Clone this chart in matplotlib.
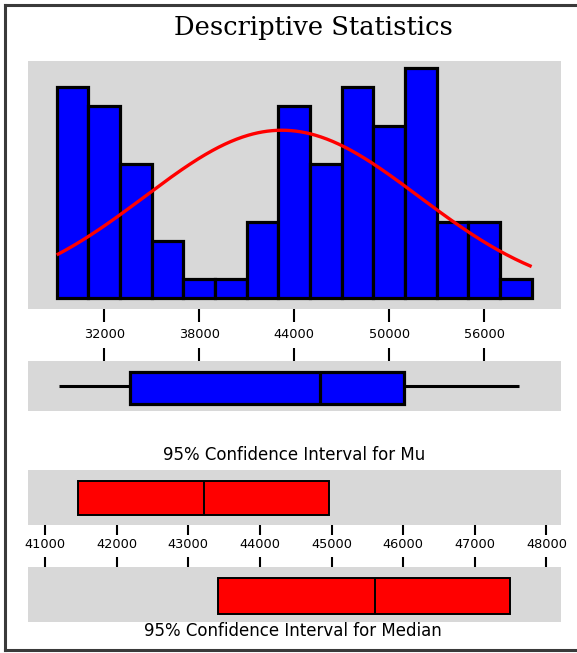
import numpy as np
import matplotlib
matplotlib.use("Agg")
import matplotlib.pyplot as plt
from matplotlib.lines import Line2D

# ---------------- data ----------------
bin_start = 29000
bin_width = 2000
counts = [11, 10, 7, 3, 1, 1, 4, 10, 7, 11, 9, 12, 4, 4, 1]
hist_ticks = [32000, 38000, 44000, 50000, 56000]

mean = 43223
std = 8650

box_min = 29130
box_q1 = 33630
box_median = 45610
box_q3 = 50910
box_max = 58200

mu_ci = [41458, 44970]
median_ci = [43419, 47494]
ci_ticks = [41000, 42000, 43000, 44000, 45000, 46000, 47000, 48000]

# ---------------- layout ----------------
W, H = 577, 653
fig = plt.figure(figsize=(W / 100, H / 100), dpi=100)
fig.patch.set_facecolor("white")
GRAY = "#d8d8d8"
PT = 0.72  # points per pixel at 100 dpi


def rect(x0, x1, y0, y1):
    return [x0 / W, 1 - y1 / H, (x1 - x0) / W, (y1 - y0) / H]


def clean(ax):
    ax.set_facecolor(GRAY)
    for s in ax.spines.values():
        s.set_visible(False)
    ax.set_yticks([])


# outer frame
fig.add_artist(Line2D([5 / W, 5 / W], [1 - 5 / H, 1 - 650 / H], color="#3a3a3a", lw=2.2, transform=fig.transFigure))
fig.add_artist(Line2D([5 / W, 1.0], [1 - 5 / H, 1 - 5 / H], color="#3a3a3a", lw=2.2, transform=fig.transFigure))
fig.add_artist(Line2D([5 / W, 1.0], [1 - 650 / H, 1 - 650 / H], color="#3a3a3a", lw=2.2, transform=fig.transFigure))

fig.text(313 / W, 1 - 27 / H, "Descriptive Statistics", ha="center", va="center",
         family="DejaVu Serif", fontsize=18.5)

# ---------------- histogram ----------------
edges = bin_start + bin_width * np.arange(len(counts) + 1)
xlim_hist = (27206, 60857)

ax1 = fig.add_axes(rect(28.3, 561, 61, 309))
clean(ax1)
ax1.bar(edges[:-1], counts, width=bin_width, align="edge", color="#0000ff",
        edgecolor="black", linewidth=2.3)
xs = np.linspace(edges[0], edges[-1], 400)
n = sum(counts)
ys = n * bin_width / (std * np.sqrt(2 * np.pi)) * np.exp(-0.5 * ((xs - mean) / std) ** 2)
ax1.plot(xs, ys, color="#ff0000", lw=2.4, solid_capstyle="butt")
ax1.set_xlim(*xlim_hist)
ax1.set_ylim(-0.55, 12.37)
ax1.set_xticks(hist_ticks)
ax1.set_xticklabels([str(t) for t in hist_ticks])
ax1.tick_params(axis="x", direction="out", length=13 * PT, width=1.5, pad=4.0, labelsize=9.3)

# ---------------- boxplot ----------------
ax2 = fig.add_axes(rect(28.3, 561, 361, 411))
clean(ax2)
ax2.set_xlim(*xlim_hist)
ax2.set_ylim(0, 1)
ax2.hlines(0.5, box_min, box_q1, color="black", lw=2.2)
ax2.hlines(0.5, box_q3, box_max, color="black", lw=2.2)
ax2.barh(0.455, box_q3 - box_q1, left=box_q1, height=0.64, color="#0000ff",
         edgecolor="black", linewidth=2.3)
ax2.vlines(box_median, 0.135, 0.775, color="black", lw=2.3)
ax2.xaxis.tick_top()
ax2.set_xticks(hist_ticks)
ax2.set_xticklabels([])
ax2.tick_params(axis="x", direction="out", length=13 * PT, width=1.5)

# ---------------- CI for mu ----------------
xlim_ci = (40767, 48204)
ax3 = fig.add_axes(rect(28.3, 561, 469.8, 524.5))
clean(ax3)
ax3.set_xlim(*xlim_ci)
ax3.set_ylim(0, 1)
ax3.barh(0.48, mu_ci[1] - mu_ci[0], left=mu_ci[0], height=0.63, color="#ff0000",
         edgecolor="black", linewidth=1.4)
ax3.vlines(mean, 0.165, 0.795, color="black", lw=1.4)
ax3.set_xticks(ci_ticks)
ax3.set_xticklabels([str(t) for t in ci_ticks])
ax3.tick_params(axis="x", direction="out", length=9.5 * PT, width=1.5, pad=3.0, labelsize=9.3)
fig.text(294 / W, 1 - 454.7 / H, "95% Confidence Interval for Mu", ha="center", va="center",
         fontsize=12)

# ---------------- CI for median ----------------
ax4 = fig.add_axes(rect(28.3, 561, 566.6, 621.6))
clean(ax4)
ax4.set_xlim(*xlim_ci)
ax4.set_ylim(0, 1)
ax4.barh(0.465, median_ci[1] - median_ci[0], left=median_ci[0], height=0.67, color="#ff0000",
         edgecolor="black", linewidth=1.4)
ax4.vlines(box_median, 0.13, 0.80, color="black", lw=1.4)
ax4.xaxis.tick_top()
ax4.set_xticks(ci_ticks)
ax4.set_xticklabels([])
ax4.tick_params(axis="x", direction="out", length=10 * PT, width=1.5)
fig.text(293 / W, 1 - 631 / H, "95% Confidence Interval for Median", ha="center", va="center",
         fontsize=12)

fig.savefig("out.png", dpi=100, facecolor="white")
